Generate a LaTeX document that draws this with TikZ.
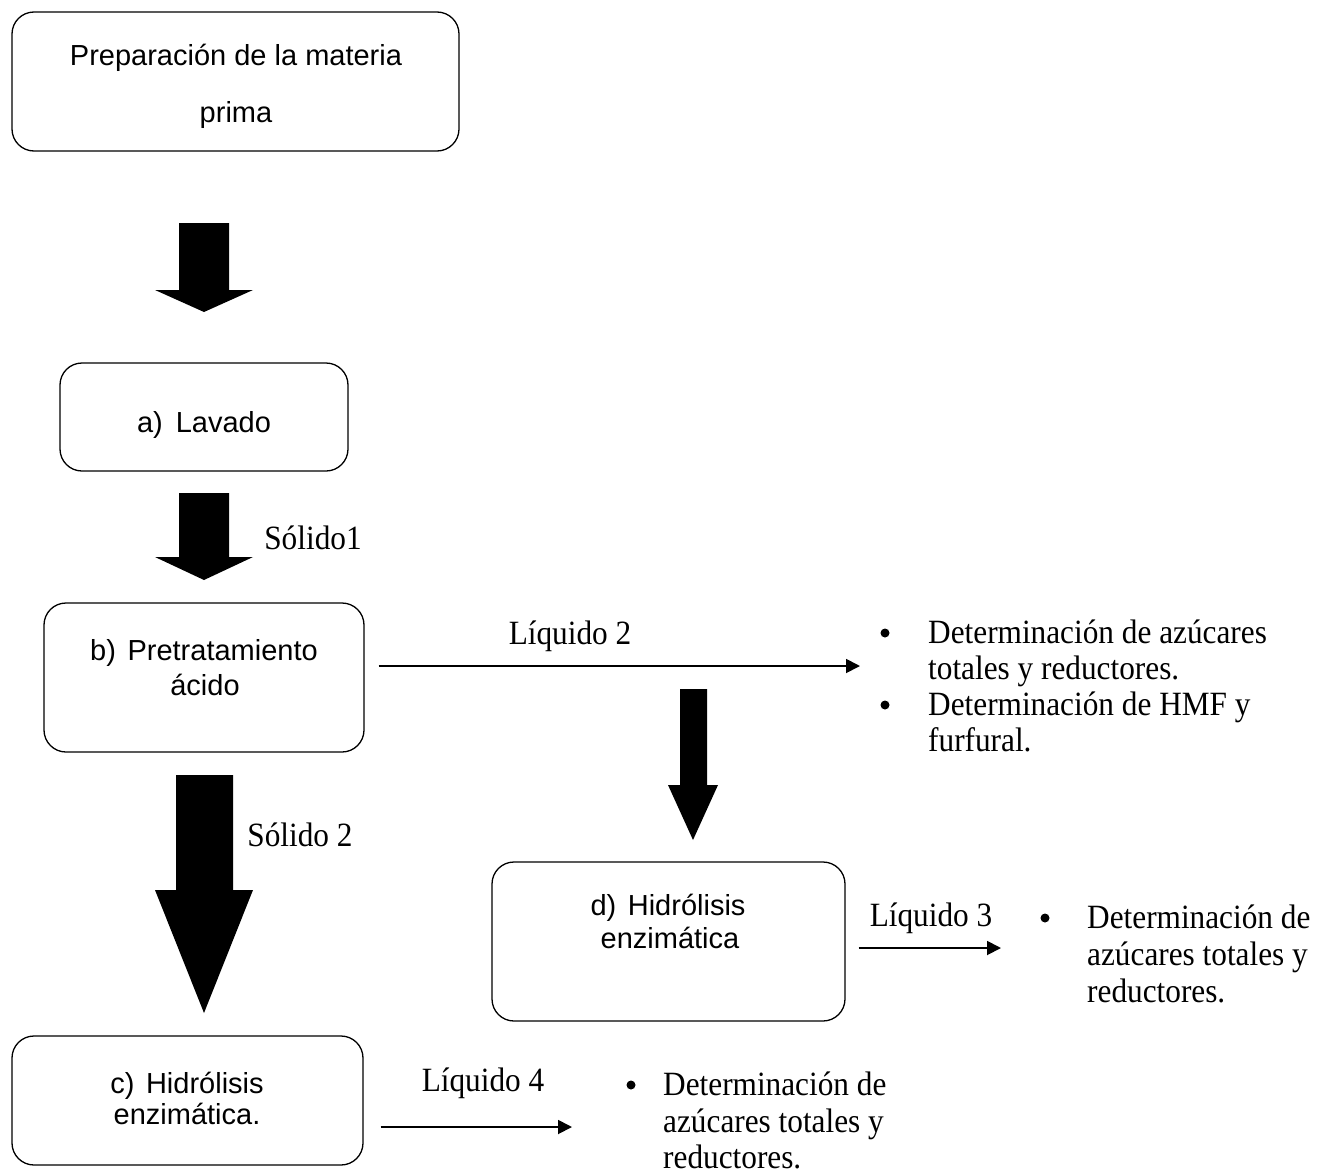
\documentclass[tikz,border=0pt]{standalone}
\usepackage{fontspec}
\usepackage{graphicx}
\setmainfont{Liberation Serif}
\newfontfamily\boxfont{Liberation Sans}
\newcommand{\narrowtxt}[1]{\scalebox{0.92}[1]{#1}}
\usetikzlibrary{arrows.meta}
\begin{document}
\begin{tikzpicture}[x=1pt,y=-1pt,
  procbox/.style={draw, line width=1.3pt, rounded corners=22pt, inner sep=0pt},
  boxtxt/.style={font=\boxfont\fontsize{29}{32}\selectfont, anchor=base, inner sep=0pt},
  lbl/.style={font=\fontsize{34}{34}\selectfont, anchor=base, inner sep=0pt},
  itemtxt/.style={font=\fontsize{34}{34}\selectfont, anchor=base west, inner sep=0pt},
  bul/.style={circle, fill=black, draw=none, minimum size=9pt, inner sep=0pt},
  fatarrow/.style={fill=black, draw=none},
  thinarrow/.style={line width=1.8pt, -{Triangle[length=14pt,width=14pt]}}
]
\useasboundingbox (0,0) rectangle (1320,1175);

% boxes
\node[procbox, minimum width=447pt, minimum height=139pt] (b1) at (235.5,81.5) {};
\node[procbox, minimum width=288pt, minimum height=108pt] (ba) at (204,417) {};
\node[procbox, minimum width=320pt, minimum height=149pt] (bb) at (204,677.5) {};
\node[procbox, minimum width=353pt, minimum height=159pt] (bd) at (668.5,941.5) {};
\node[procbox, minimum width=351pt, minimum height=129pt] (bc) at (187.5,1100.5) {};

% box texts
\node[boxtxt] (t1a) at (236,65) {Preparación de la materia};
\node[boxtxt] (t1b) at (236,122) {prima};
\node[boxtxt] (ta) at (204,432) {a)\hspace{0.45em}Lavado};
\node[boxtxt] (tba) at (204,660) {b)\hspace{0.4em}Pretratamiento};
\node[boxtxt] (tbb) at (205,695) {ácido};
\node[boxtxt] (tda) at (668,915) {d)\hspace{0.4em}Hidrólisis};
\node[boxtxt] (tdb) at (670,948) {enzimática};
\node[boxtxt] (tca) at (187,1093) {c)\hspace{0.4em}Hidrólisis};
\node[boxtxt] (tcb) at (187,1124) {enzimática.};

% fat arrows
\fill[fatarrow] (179,223) -- (229,223) -- (229,290) -- (253,290) -- (204,312) -- (155,290) -- (179,290) -- cycle;
\fill[fatarrow] (179,493) -- (229,493) -- (229,557) -- (253,557) -- (204,580) -- (155,557) -- (179,557) -- cycle;
\fill[fatarrow] (680,689) -- (707,689) -- (707,785) -- (718,785) -- (693,840) -- (668,785) -- (680,785) -- cycle;
\fill[fatarrow] (176,775) -- (233,775) -- (233,890) -- (253,890) -- (204,1013) -- (155,890) -- (176,890) -- cycle;

% labels
\node[lbl] (s1) at (313,549) {\narrowtxt{Sólido1}};
\node[lbl] (s2) at (300,846) {\narrowtxt{Sólido 2}};
\node[lbl] (l2) at (570,644) {\narrowtxt{Líquido 2}};
\node[lbl] (l3) at (931,926) {\narrowtxt{Líquido 3}};
\node[lbl] (l4) at (483,1091) {\narrowtxt{Líquido 4}};

% thin arrows
\coordinate (e2) at (860,666);
\coordinate (e3) at (1001,948);
\coordinate (e4) at (572,1127);
\draw[thinarrow] (bb.east |- e2) ++(14,0) coordinate (s2a) -- (e2);
\draw[thinarrow] (bd.east |- e3) ++(13,0) coordinate (s3a) -- (e3);
\draw[thinarrow] (bc.east |- e4) ++(17,0) coordinate (s4a) -- (e4);

% list 1
\node[bul] (u1) at (885,633) {};
\node[itemtxt] (i1a) at (928,643) {\narrowtxt{Determinación de azúcares}};
\node[itemtxt] (i1b) at (928,679) {\narrowtxt{totales y reductores.}};
\node[bul] (u2) at (885,705) {};
\node[itemtxt] (i2a) at (928,715) {\narrowtxt{Determinación de HMF y}};
\node[itemtxt] (i2b) at (928,751) {\narrowtxt{furfural.}};

% list 2
\node[bul] (u3) at (1045,918) {};
\node[itemtxt] (i3a) at (1087,928) {\narrowtxt{Determinación de}};
\node[itemtxt] (i3b) at (1087,965) {\narrowtxt{azúcares totales y}};
\node[itemtxt] (i3c) at (1087,1002) {\narrowtxt{reductores.}};

% list 3
\node[bul] (u4) at (631,1085) {};
\node[itemtxt] (i4a) at (663,1095) {\narrowtxt{Determinación de}};
\node[itemtxt] (i4b) at (663,1132) {\narrowtxt{azúcares totales y}};
\node[itemtxt] (i4c) at (663,1168) {\narrowtxt{reductores.}};
\end{tikzpicture}
\end{document}
